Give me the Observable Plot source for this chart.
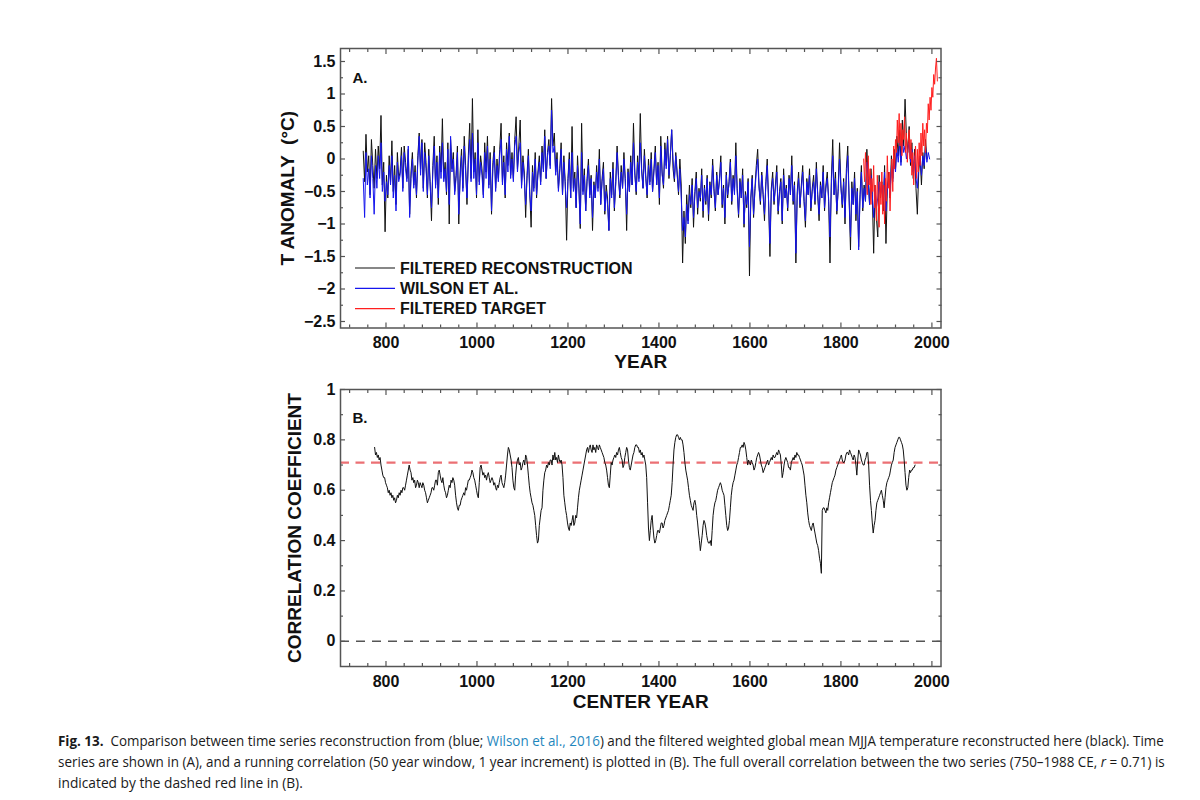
<!DOCTYPE html>
<html>
<head>
<meta charset="utf-8">
<script src="https://cdn.jsdelivr.net/npm/d3@7"></script>
<script src="https://cdn.jsdelivr.net/npm/@observablehq/plot@0.6"></script>
<style>
  html, body { margin: 0; padding: 0; background: #fff; }
  body { width: 1200px; height: 800px; position: relative; overflow: hidden; }
  #panelA, #panelB, #caption { position: absolute; left: 0; }
  #panelA { top: 0; }
  #panelB { top: 380px; }
  #caption { top: 720px; }
</style>
</head>
<body>
<div id="panelA"></div>
<div id="panelB"></div>
<svg id="caption" width="1200" height="80"></svg>
<script>
// ---------------- data ----------------
// Filtered weighted global mean MJJA reconstruction, 750-1989 CE, every 3 years
const reconStart = 750, reconStep = 3;
const reconValues = [
  0.12,-0.35,0.38,-0.20,0.05,-0.55,0.30,-0.10,-0.45,0.15,
  -0.30,0.20,-0.15,0.67,-0.40,-0.05,-1.12,-0.25,-0.60,0.05,
  -0.35,0.28,-0.50,-0.10,-0.70,0.10,-0.30,-0.20,0.18,-0.45,
  0.20,-0.05,-0.30,0.15,-0.85,-0.20,0.10,-0.40,-0.10,-0.60,
  0.05,0.40,-0.15,0.30,-0.45,0.25,-0.05,-0.60,0.15,-0.35,
  -0.95,-0.10,0.35,-0.40,0.05,-0.70,0.20,-0.20,0.62,-0.30,
  -0.05,-0.55,0.25,-1.00,0.30,-0.15,0.10,-0.50,-0.25,0.20,
  -1.00,-0.20,0.15,-0.45,0.35,-0.10,-0.70,0.05,0.55,-0.30,
  0.93,-0.20,0.10,-0.60,0.45,-0.35,0.05,-0.15,-0.55,0.25,
  -0.20,0.35,-0.40,0.10,-0.85,-0.05,0.20,-0.45,0.00,-0.30,
  0.15,0.55,-0.35,0.05,-0.60,0.25,-0.10,0.40,-0.25,0.10,
  -0.30,0.30,0.65,-0.15,0.20,0.60,-0.40,0.05,-0.20,-0.90,
  -0.25,0.15,-0.50,-1.05,-0.10,-0.45,0.10,-0.60,-0.20,0.05,
  -0.35,0.20,-0.15,0.45,-0.30,0.10,0.30,-0.10,0.93,0.20,
  0.40,-0.20,0.10,-0.45,-0.15,0.25,-0.55,0.05,-0.35,-1.25,
  -0.30,0.10,-0.60,0.50,-0.45,-0.20,-0.75,0.05,-0.40,-1.07,
  0.55,-0.50,-0.15,-0.80,-0.30,0.00,-0.55,-0.25,-1.10,-0.35,
  -0.60,-0.10,-0.45,0.15,-0.70,-0.30,-0.05,-0.85,-0.40,-0.60,
  -1.10,-0.20,-0.55,-0.05,-0.80,-0.35,0.20,-0.25,-0.60,-0.10,
  -0.45,0.10,-0.30,-1.10,-0.15,-0.50,0.05,-0.40,0.55,-0.20,
  -0.55,0.05,-0.30,0.70,-0.15,-0.45,0.15,-0.25,-0.60,0.00,
  -0.35,0.10,-0.50,-0.15,0.20,-0.40,-0.05,-0.70,0.35,-0.20,
  -0.45,0.25,-0.10,0.35,-0.30,0.05,0.45,-0.15,-0.35,0.10,
  -0.20,-0.55,0.00,-0.40,-1.60,-0.80,-1.30,-0.55,-0.95,-0.40,
  -0.75,-0.30,-1.05,-0.50,-0.20,-0.85,-0.45,-0.65,-0.15,-0.90,
  -0.40,-0.70,-0.25,-0.95,-0.35,-0.60,0.00,-0.45,-0.80,-0.20,
  -0.55,-0.30,0.05,-0.75,-0.40,-1.00,-0.20,-0.60,-0.35,0.00,
  -0.70,-0.25,-0.50,0.25,-0.45,-0.90,-0.30,-0.60,-0.15,-1.05,
  -0.50,-0.75,-0.30,-1.80,-0.60,-0.25,-0.90,-0.45,-0.10,0.15,
  -0.40,-0.70,-0.20,-0.55,-0.95,-0.35,0.00,-0.65,-1.50,-0.45,
  -0.20,-0.70,-0.40,-0.10,-0.85,-0.50,-0.30,-1.00,-0.15,-0.60,
  -0.40,-0.80,-0.25,-0.55,0.05,-0.70,-0.35,-1.60,-0.50,-0.20,
  -0.75,-0.40,-0.10,-0.65,-1.05,-0.30,-0.55,-0.15,-0.80,-0.45,
  -0.25,-0.70,-0.05,-0.55,-0.95,-0.35,-0.60,-0.10,-0.80,-0.40,
  -0.20,-0.65,-1.60,-0.30,0.30,-0.55,-0.20,-0.85,-0.45,0.25,
  -0.40,-0.75,-0.30,-1.00,-0.15,0.20,-0.60,-1.40,-0.35,-0.70,
  -0.20,-0.95,-0.45,-1.35,-0.55,-0.10,-0.80,-0.40,-0.65,0.15,
  -0.30,-0.70,-0.15,-0.55,-1.45,-0.40,-0.90,-1.20,-0.25,-0.60,
  -0.35,-0.80,-0.10,-1.30,-0.45,-0.20,-0.60,0.05,-0.30,0.15,
  -0.15,0.35,0.05,0.45,-0.05,0.60,0.20,0.92,0.35,0.10,
  0.50,-0.10,0.25,-0.30,0.15,-0.45,-0.85,-0.20,0.05,-0.40,
  0.10,-0.15,0.30,0.00
];

// Wilson et al. (2016) reconstruction, 750-1995 CE, every 3 years
const wilsonStart = 750, wilsonStep = 3;
const wilsonValues = [
  -0.30,-0.90,0.10,-0.40,-0.15,-0.60,0.05,-0.30,-0.85,-0.10,
  -0.45,0.05,-0.30,0.25,-0.50,-0.20,-0.65,-0.35,-0.55,-0.10,
  -0.40,0.05,-0.60,-0.25,-0.80,-0.05,-0.35,-0.25,0.05,-0.50,
  0.10,-0.15,-0.35,0.20,-0.90,-0.30,0.00,-0.45,-0.20,-0.55,
  -0.05,0.35,-0.25,0.25,-0.50,0.10,-0.15,-0.55,0.05,-0.40,
  -0.75,-0.20,0.20,-0.45,-0.05,-0.60,0.10,-0.30,0.25,-0.35,
  -0.15,-0.50,0.15,-0.70,0.35,-0.20,0.00,-0.55,-0.30,0.10,
  -0.85,-0.30,0.05,-0.50,0.20,-0.20,-0.60,-0.05,0.30,-0.35,
  0.40,-0.30,0.00,-0.55,0.25,-0.40,-0.05,-0.25,-0.60,0.10,
  -0.30,0.20,-0.45,0.00,-0.80,-0.15,0.10,-0.50,-0.10,-0.35,
  0.05,0.30,-0.40,-0.05,-0.55,0.15,-0.20,0.35,-0.30,0.00,
  -0.35,0.20,0.35,-0.20,0.10,0.25,-0.45,-0.05,-0.30,-0.70,
  -0.30,0.05,-0.55,-0.80,-0.20,-0.50,0.00,-0.55,-0.25,-0.05,
  -0.40,0.10,-0.20,0.35,-0.30,0.05,0.20,-0.15,0.75,0.10,
  0.20,-0.25,0.00,-0.50,-0.20,0.15,-0.55,-0.05,-0.40,-0.75,
  -0.35,0.00,-0.60,0.10,-0.50,-0.30,-0.75,-0.10,-0.45,-1.00,
  0.10,-0.55,-0.25,-0.80,-0.35,-0.10,-0.60,-0.30,-0.90,-0.40,
  -0.60,-0.20,-0.50,0.00,-0.70,-0.35,-0.15,-0.80,-0.50,-0.70,
  -1.10,-0.30,-0.60,-0.15,-0.75,-0.40,0.10,-0.30,-0.55,-0.20,
  -0.45,0.00,-0.35,-0.85,-0.20,-0.50,-0.05,-0.40,0.25,-0.25,
  -0.50,-0.05,-0.35,0.25,-0.20,-0.45,0.05,-0.30,-0.55,-0.10,
  -0.40,0.00,-0.50,-0.20,0.10,-0.40,-0.10,-0.60,0.20,-0.25,
  -0.40,0.15,-0.15,0.30,-0.25,0.05,0.45,0.00,-0.30,0.05,
  -0.25,-0.50,-0.15,-0.60,-1.10,-0.90,-1.20,-0.70,-1.00,-0.55,
  -0.70,-0.40,-0.90,-0.55,-0.30,-0.75,-0.50,-0.60,-0.25,-0.80,
  -0.45,-0.65,-0.30,-0.85,-0.40,-0.55,-0.10,-0.50,-0.75,-0.25,
  -0.55,-0.35,-0.05,-0.70,-0.45,-0.90,-0.25,-0.55,-0.40,-0.05,
  -0.65,-0.30,-0.55,0.05,-0.50,-0.85,-0.35,-0.60,-0.25,-1.00,
  -0.55,-0.70,-0.35,-1.35,-0.60,-0.30,-0.85,-0.50,-0.20,0.00,
  -0.45,-0.65,-0.25,-0.55,-0.85,-0.40,-0.10,-0.65,-1.30,-0.50,
  -0.30,-0.65,-0.45,-0.20,-0.80,-0.55,-0.35,-0.95,-0.25,-0.60,
  -0.45,-0.75,-0.30,-0.55,-0.10,-0.65,-0.40,-1.45,-0.55,-0.30,
  -0.70,-0.45,-0.20,-0.65,-0.95,-0.35,-0.55,-0.25,-0.75,-0.50,
  -0.35,-0.65,-0.15,-0.55,-0.85,-0.40,-0.60,-0.20,-0.75,-0.45,
  -0.30,-0.60,-1.20,-0.40,0.05,-0.55,-0.30,-0.80,-0.50,0.00,
  -0.45,-0.70,-0.35,-0.90,-0.25,0.05,-0.60,-1.20,-0.45,-0.70,
  -0.30,-0.85,-0.50,-1.40,-0.60,-0.20,-0.75,-0.45,-0.65,-0.05,
  -0.35,-0.70,-0.25,-0.55,-0.90,-0.45,-0.75,-0.60,-0.35,-0.55,
  -0.40,-0.65,-0.20,-0.80,-0.45,-0.30,-0.55,-0.10,-0.35,0.00,
  -0.20,0.15,-0.05,0.25,-0.10,0.30,0.10,0.20,0.00,0.15,
  0.25,-0.05,0.15,-0.20,0.05,-0.30,-0.45,-0.10,0.00,-0.25,
  0.05,-0.10,0.20,-0.05,0.10,0.00
];

// Filtered instrumental target, 1850-2012 CE, every 2 years
const targetStart = 1850, targetStep = 2;
const targetValues = [
  0.00,-0.35,0.10,-0.20,-0.55,0.05,-0.40,-0.15,-0.70,-0.30,
  -0.50,-0.10,-0.75,-0.40,-0.95,-0.25,-0.60,-1.05,-0.35,-0.70,
  -0.20,-0.85,-0.40,-1.00,-0.30,-0.65,0.05,-0.45,-0.20,-0.80,
  -0.35,0.00,-0.50,0.20,-0.15,0.30,0.10,0.60,0.25,0.70,
  0.20,0.55,0.05,0.45,0.30,0.65,0.10,0.40,-0.05,0.25,
  0.45,0.00,0.30,-0.25,0.10,-0.40,-0.05,0.20,-0.30,0.15,
  -0.20,0.25,-0.10,0.40,0.05,0.55,0.20,0.45,0.10,0.55,
  0.40,0.85,0.60,0.95,0.75,1.10,0.95,1.30,1.15,1.40,
  1.55,1.20
];

// 50-year running correlation, by center year 775-1963, every 2 years
const corrStart = 775, corrStep = 2;
const corrValues = [
  0.77,0.74,0.75,0.73,0.74,0.72,0.73,0.70,0.68,0.66,
  0.65,0.65,0.63,0.62,0.61,0.59,0.60,0.58,0.59,0.57,
  0.58,0.56,0.57,0.55,0.56,0.58,0.57,0.59,0.58,0.60,
  0.59,0.61,0.61,0.60,0.62,0.64,0.66,0.68,0.70,0.68,
  0.67,0.64,0.65,0.63,0.64,0.61,0.62,0.64,0.63,0.61,
  0.63,0.62,0.61,0.63,0.62,0.60,0.59,0.57,0.55,0.56,
  0.57,0.58,0.59,0.61,0.61,0.60,0.62,0.64,0.64,0.62,
  0.67,0.68,0.66,0.64,0.63,0.65,0.62,0.60,0.59,0.57,
  0.58,0.60,0.62,0.61,0.64,0.63,0.65,0.64,0.62,0.58,
  0.55,0.53,0.52,0.54,0.54,0.56,0.57,0.58,0.59,0.58,
  0.61,0.60,0.62,0.64,0.64,0.65,0.66,0.68,0.67,0.65,
  0.64,0.62,0.60,0.58,0.57,0.63,0.69,0.70,0.68,0.66,
  0.67,0.65,0.66,0.64,0.66,0.67,0.65,0.63,0.64,0.65,
  0.64,0.62,0.63,0.61,0.60,0.62,0.61,0.63,0.65,0.66,
  0.63,0.62,0.61,0.63,0.66,0.70,0.74,0.77,0.76,0.74,
  0.72,0.69,0.64,0.61,0.60,0.66,0.70,0.72,0.73,0.70,
  0.71,0.68,0.69,0.71,0.72,0.70,0.74,0.73,0.70,0.66,
  0.62,0.59,0.57,0.55,0.54,0.52,0.50,0.46,0.42,0.39,
  0.40,0.46,0.49,0.52,0.53,0.60,0.64,0.67,0.68,0.70,
  0.69,0.71,0.70,0.72,0.72,0.70,0.74,0.72,0.75,0.72,
  0.73,0.71,0.74,0.72,0.71,0.72,0.70,0.65,0.58,0.55,
  0.52,0.50,0.47,0.45,0.44,0.47,0.46,0.48,0.50,0.46,
  0.47,0.50,0.49,0.53,0.57,0.60,0.62,0.64,0.66,0.68,
  0.70,0.72,0.74,0.76,0.77,0.75,0.77,0.78,0.76,0.75,
  0.78,0.76,0.77,0.75,0.78,0.77,0.76,0.78,0.77,0.76,
  0.75,0.74,0.73,0.71,0.70,0.68,0.65,0.62,0.61,0.66,
  0.71,0.70,0.72,0.73,0.74,0.73,0.75,0.74,0.76,0.77,
  0.75,0.73,0.72,0.69,0.70,0.73,0.75,0.77,0.76,0.72,
  0.69,0.68,0.70,0.72,0.74,0.75,0.77,0.78,0.78,0.77,
  0.77,0.75,0.76,0.74,0.75,0.73,0.74,0.72,0.70,0.65,
  0.55,0.45,0.40,0.44,0.48,0.50,0.45,0.41,0.39,0.40,
  0.42,0.44,0.44,0.43,0.45,0.47,0.47,0.45,0.46,0.48,
  0.49,0.50,0.51,0.52,0.54,0.56,0.58,0.63,0.70,0.76,
  0.79,0.81,0.82,0.82,0.81,0.80,0.81,0.80,0.80,0.78,
  0.75,0.71,0.68,0.66,0.64,0.61,0.58,0.56,0.54,0.53,
  0.52,0.55,0.56,0.54,0.50,0.47,0.43,0.40,0.36,0.39,
  0.42,0.46,0.48,0.47,0.45,0.42,0.40,0.39,0.39,0.40,
  0.38,0.44,0.50,0.53,0.55,0.56,0.58,0.60,0.61,0.62,
  0.63,0.62,0.60,0.59,0.58,0.54,0.50,0.46,0.44,0.45,
  0.48,0.53,0.58,0.61,0.63,0.64,0.66,0.68,0.70,0.71,
  0.73,0.75,0.77,0.77,0.78,0.77,0.79,0.78,0.76,0.73,
  0.70,0.72,0.71,0.70,0.72,0.71,0.70,0.68,0.69,0.71,
  0.73,0.74,0.75,0.74,0.72,0.70,0.69,0.67,0.68,0.69,
  0.70,0.71,0.72,0.70,0.71,0.72,0.73,0.72,0.74,0.73,
  0.73,0.74,0.75,0.74,0.76,0.75,0.74,0.70,0.65,0.67,
  0.70,0.72,0.73,0.72,0.71,0.69,0.69,0.68,0.71,0.72,
  0.73,0.72,0.74,0.73,0.75,0.74,0.74,0.73,0.72,0.71,
  0.70,0.68,0.66,0.62,0.58,0.55,0.51,0.48,0.46,0.45,
  0.44,0.46,0.47,0.45,0.43,0.41,0.39,0.38,0.36,0.33,
  0.31,0.27,0.52,0.53,0.53,0.52,0.51,0.53,0.52,0.55,
  0.57,0.59,0.61,0.63,0.64,0.65,0.66,0.68,0.69,0.70,
  0.71,0.72,0.73,0.74,0.72,0.71,0.71,0.72,0.74,0.75,
  0.75,0.74,0.76,0.75,0.74,0.73,0.72,0.74,0.73,0.70,
  0.66,0.72,0.76,0.75,0.74,0.72,0.71,0.70,0.70,0.72,
  0.73,0.75,0.75,0.70,0.62,0.56,0.52,0.47,0.43,0.46,
  0.48,0.52,0.55,0.56,0.57,0.58,0.59,0.60,0.58,0.56,
  0.53,0.57,0.61,0.63,0.64,0.65,0.66,0.68,0.70,0.71,
  0.72,0.75,0.77,0.78,0.79,0.80,0.81,0.81,0.80,0.79,
  0.78,0.76,0.72,0.67,0.62,0.60,0.61,0.65,0.68,0.67,
  0.68,0.68,0.69,0.69,0.70
];

// Full-period correlation (750-1988 CE)
const overallR = 0.71;

// Axis tick values
const yearTicks = [800, 1000, 1200, 1400, 1600, 1800, 2000];
const anomalyTicks = [-2.5, -2, -1.5, -1, -0.5, 0, 0.5, 1, 1.5];
const anomalyMinorTicks = [-2.25, -1.75, -1.25, -0.75, -0.25, 0.25, 0.75, 1.25];
const corrTicks = [0, 0.2, 0.4, 0.6, 0.8, 1];
const corrMinorTicks = [0.1, 0.3, 0.5, 0.7, 0.9];

const legendLabels = ["FILTERED RECONSTRUCTION", "WILSON ET AL.", "FILTERED TARGET"];

// ---------------- styling ----------------
const font = '"Liberation Sans", Arial, Helvetica, sans-serif';
const ink = "#111";
const frameInk = "#555";
const reconColor = "#111";
const wilsonColor = "#1515ee";
const targetColor = "#ff1f1f";

const toRows = (start, step, values) => values.map((value, i) => ({year: start + i * step, value}));
const recon = toRows(reconStart, reconStep, reconValues);
const wilson = toRows(wilsonStart, wilsonStep, wilsonValues);
const target = toRows(targetStart, targetStep, targetValues);
const corr = toRows(corrStart, corrStep, corrValues);

const yearMinorTicks = d3.range(720, 2021, 40).filter(d => d % 200 !== 0);
const blank = () => "";

// Box axes with inward ticks on all four sides, labels on left and bottom
function boxAxes(xMajor, xMinor, yMajor, yMinor, yFormat) {
  const line = {stroke: frameInk, strokeWidth: 1.2, label: null};
  const text = {fill: ink, fontSize: 16, fontWeight: "bold"};
  return [
    Plot.axisX(xMajor, {...line, ...text, anchor: "bottom", tickSize: -5, tickPadding: 14, tickFormat: d => String(d)}),
    Plot.axisX(xMajor, {...line, anchor: "top", tickSize: -5, tickFormat: blank}),
    Plot.axisX(xMinor, {...line, anchor: "bottom", tickSize: -3, tickFormat: blank}),
    Plot.axisX(xMinor, {...line, anchor: "top", tickSize: -3, tickFormat: blank}),
    Plot.axisY(yMajor, {...line, ...text, anchor: "left", tickSize: -5, tickPadding: 10, tickFormat: yFormat}),
    Plot.axisY(yMajor, {...line, anchor: "right", tickSize: -5, tickFormat: blank}),
    Plot.axisY(yMinor, {...line, anchor: "left", tickSize: -3, tickFormat: blank}),
    Plot.axisY(yMinor, {...line, anchor: "right", tickSize: -3, tickFormat: blank})
  ];
}

const signed = d => (d < 0 ? "\u2212" : "") + String(Math.abs(d));
const plain = d => String(d);
const title = {fontSize: 19, fontWeight: "bold", fill: ink, textAnchor: "middle", lineAnchor: "middle"};
const tag = {frameAnchor: "top-left", textAnchor: "start", lineAnchor: "middle", dx: 12, fontSize: 15, fontWeight: "bold", fill: ink};

// ---------------- panel A: time series ----------------
const plotA = Plot.plot({
  width: 1200,
  height: 380,
  marginLeft: 340,
  marginRight: 259.5,
  marginTop: 48,
  marginBottom: 52.5,
  style: {fontFamily: font, background: "transparent", overflow: "visible"},
  x: {domain: [700, 2020], axis: null, label: null},
  y: {domain: [-2.6, 1.7], axis: null, label: null},
  marks: [
    Plot.line(recon, {x: "year", y: "value", stroke: reconColor, strokeWidth: 1}),
    Plot.line(wilson, {x: "year", y: "value", stroke: wilsonColor, strokeWidth: 1}),
    Plot.line(target, {x: "year", y: "value", stroke: targetColor, strokeWidth: 1}),
    ...boxAxes(yearTicks, yearMinorTicks, anomalyTicks, anomalyMinorTicks, signed),
    Plot.frame({stroke: frameInk, strokeWidth: 1.5}),
    Plot.text(["A."], {...tag, dy: 30}),
    Plot.text(["YEAR"], {...title, frameAnchor: "bottom", dy: 34}),
    Plot.text(["T ANOMALY \u00A0(\u00B0C)"], {...title, frameAnchor: "left", rotate: -90, dx: -53})
  ]
});
document.getElementById("panelA").appendChild(plotA);

// Legend inside panel A, lower left
const legendColors = [reconColor, wilsonColor, targetColor];
const legend = d3.select(plotA).append("g")
  .attr("font-family", font).attr("font-weight", "bold").attr("font-size", 16)
  .attr("fill", ink).attr("text-anchor", "start");
legendLabels.forEach((label, i) => {
  const y = 268 + i * 20.3;
  legend.append("line").attr("x1", 355).attr("x2", 395).attr("y1", y).attr("y2", y)
    .attr("stroke", legendColors[i]).attr("stroke-width", 1.2);
  legend.append("text").attr("x", 400).attr("y", y).attr("dy", "0.36em").text(label);
});

// ---------------- panel B: running correlation ----------------
const plotB = Plot.plot({
  width: 1200,
  height: 340,
  marginLeft: 340,
  marginRight: 259.5,
  marginTop: 9,
  marginBottom: 54,
  style: {fontFamily: font, background: "transparent", overflow: "visible"},
  x: {domain: [700, 2020], axis: null, label: null},
  y: {domain: [-0.1, 1], axis: null, label: null},
  marks: [
    Plot.ruleY([0], {stroke: "#555", strokeWidth: 1.5, strokeDasharray: "9,7"}),
    Plot.ruleY([overallR], {stroke: "#e8575c", strokeOpacity: 0.85, strokeWidth: 2.2, strokeDasharray: "9,6.5"}),
    Plot.line(corr, {x: "year", y: "value", stroke: "#111", strokeWidth: 1}),
    ...boxAxes(yearTicks, yearMinorTicks, corrTicks, corrMinorTicks, plain),
    Plot.frame({stroke: frameInk, strokeWidth: 1.5}),
    Plot.text(["B."], {...tag, dy: 29}),
    Plot.text(["CENTER YEAR"], {...title, frameAnchor: "bottom", dy: 35.5}),
    Plot.text(["CORRELATION COEFFICIENT"], {...title, frameAnchor: "left", rotate: -90, dx: -46})
  ]
});
document.getElementById("panelB").appendChild(plotB);

// ---------------- caption ----------------
const captionLines = [
  [["Fig. 13.", "bold"], ["  Comparison between time series reconstruction from (blue; ", ""], ["Wilson et al., 2016", "link"], [") and the filtered weighted global mean MJJA temperature reconstructed here (black). Time", ""]],
  [["series are shown in (A), and a running correlation (50 year window, 1 year increment) is plotted in (B). The full overall correlation between the two series (750\u20131988 CE, ", ""], ["r", "italic"], [" = 0.71) is", ""]],
  [["indicated by the dashed red line in (B).", ""]]
];
const captionWidths = [1107, 1107, 245];
const cap = d3.select("#caption")
  .attr("font-family", '"Open Sans", "Noto Sans", sans-serif')
  .attr("font-size", 15).attr("fill", "#1a1a1a");
// Each line is set in a regular face and narrowed horizontally to its measure
captionLines.forEach((parts, i) => {
  const g = cap.append("g");
  const t = g.append("text").attr("x", 0).attr("y", 0).style("white-space", "pre");
  parts.forEach(([s, kind]) => {
    const span = t.append("tspan").text(s);
    if (kind === "bold") span.attr("font-weight", "bold");
    if (kind === "italic") span.attr("font-style", "italic");
    if (kind === "link") span.attr("fill", "#1f87bd");
  });
  const natural = t.node().getComputedTextLength();
  g.attr("transform", `translate(58,${26 + i * 21}) scale(${captionWidths[i] / natural},1)`);
});
</script>
</body>
</html>
